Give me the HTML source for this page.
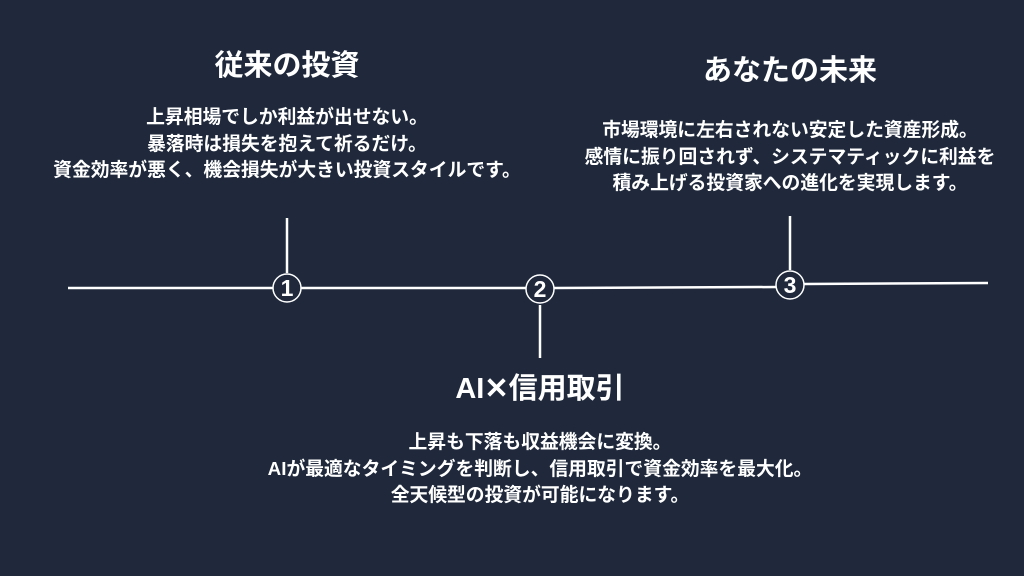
<!DOCTYPE html>
<html><head><meta charset="utf-8"><style>
body{margin:0;width:1024px;height:576px;background:#1f293b;overflow:hidden;font-family:"Liberation Sans","Noto Sans CJK JP",sans-serif;color:#fff;position:relative}
.t{position:absolute;font-weight:bold;font-size:29px;text-align:center;white-space:nowrap;transform:translateX(-50%);line-height:32px}
.b{position:absolute;font-weight:bold;font-size:18.8px;text-align:center;white-space:nowrap;transform:translateX(-50%);line-height:26.5px}
</style></head><body>
<svg width="1024" height="576" style="position:absolute;left:0;top:0">
<g stroke="#fff" stroke-width="2.5" fill="none">
<line x1="68" y1="288" x2="273" y2="288"/>
<line x1="301" y1="288" x2="526" y2="288"/>
<line x1="554" y1="288" x2="776" y2="287"/>
<line x1="804" y1="284" x2="988" y2="283"/>
<line x1="287" y1="218" x2="287" y2="273"/>
<line x1="540" y1="305" x2="540" y2="358"/>
<line x1="790" y1="216" x2="790" y2="270"/>
</g>
<g stroke="#fff" stroke-width="1.5" fill="#1f293b">
<circle cx="287" cy="288" r="14"/><circle cx="540" cy="289" r="14"/><circle cx="790" cy="285" r="14"/>
</g>
<g fill="#fff" font-weight="bold" font-size="23" text-anchor="middle" font-family="Liberation Sans,sans-serif">
<text x="287" y="296">1</text><text x="540" y="297">2</text><text x="790" y="293">3</text>
</g>
</svg>
<div class="t" style="left:287px;top:50px">従来の投資</div>
<div class="b" style="left:287px;top:104px">上昇相場でしか利益が出せない。<br>暴落時は損失を抱えて祈るだけ。<br>資金効率が悪く、機会損失が大きい投資スタイルです。</div>
<div class="t" style="left:790px;top:55px">あなたの未来</div>
<div class="b" style="left:790px;top:117px">市場環境に左右されない安定した資産形成。<br>感情に振り回されず、システマティックに利益を<br>積み上げる投資家への進化を実現します。</div>
<div class="t" style="left:540px;top:373px">AI✕信用取引</div>
<div class="b" style="left:540px;top:429px">上昇も下落も収益機会に変換。<br>AIが最適なタイミングを判断し、信用取引で資金効率を最大化。<br>全天候型の投資が可能になります。</div>
</body></html>
